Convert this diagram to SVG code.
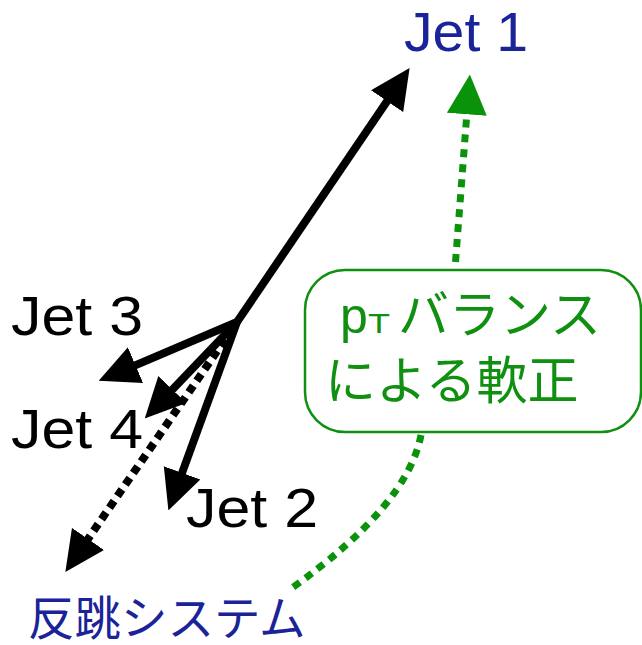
<svg xmlns="http://www.w3.org/2000/svg" width="642" height="645" viewBox="0 0 642 645">
<style>
.lat{font-family:"Liberation Sans","Noto Sans CJK JP",sans-serif;font-size:56px}
.jp{font-family:"Noto Sans CJK JP",sans-serif}
.blue{fill:#1a2397}
.green{fill:#109010}
.blk{fill:#000}
.arrow{stroke:#000;stroke-width:8;fill:none}
.dot{stroke:#000;stroke-width:8;fill:none;stroke-dasharray:8 6}
.gdot{stroke:#0a930a;stroke-width:7;fill:none;stroke-dasharray:8 7}
</style>
<defs>
<marker id="ah" markerUnits="userSpaceOnUse" markerWidth="40" markerHeight="40" viewBox="0 0 35 34" refX="2" refY="17" orient="auto"><path d="M0,0 L35,17 L0,34 z" fill="#000"/></marker>
<marker id="gah" markerUnits="userSpaceOnUse" markerWidth="40" markerHeight="40" viewBox="0 0 34 34" refX="2" refY="17" orient="auto"><path d="M0,0 L34,17 L0,34 z" fill="#0a930a"/></marker>
</defs>
<g id="connectors">
<line class="dot" x1="233" y1="328" x2="86.7" y2="540.8" marker-end="url(#ah)"/>
<line class="arrow" x1="237" y1="322" x2="388.4" y2="99.3" marker-end="url(#ah)"/>
<line class="arrow" x1="237" y1="322" x2="133.4" y2="366.1" marker-end="url(#ah)"/>
<line class="arrow" x1="237" y1="322" x2="170.8" y2="391.2" marker-end="url(#ah)"/>
<line class="arrow" x1="237" y1="322" x2="181.3" y2="475" marker-end="url(#ah)"/>
<line class="gdot" x1="455.5" y1="262" x2="467" y2="112" marker-end="url(#gah)"/>
<path class="gdot" d="M421,435 Q408,505 292,588"/>
</g>
<g id="jet1"><text class="lat blue" x="404" y="51" textLength="124" lengthAdjust="spacingAndGlyphs">Jet 1</text></g>
<g id="jet3"><text class="lat blk" x="11" y="335" textLength="132" lengthAdjust="spacingAndGlyphs">Jet 3</text></g>
<g id="jet4"><text class="lat blk" x="11" y="448" textLength="132" lengthAdjust="spacingAndGlyphs">Jet 4</text></g>
<g id="jet2"><text class="lat blk" x="186" y="527" textLength="132" lengthAdjust="spacingAndGlyphs">Jet 2</text></g>
<g id="recoil"><text class="jp blue" x="28" y="635" font-size="46.5">反跳システム</text></g>
<g id="ptbalance">
<rect x="305" y="270" width="336" height="162" rx="40" ry="40" fill="#fff" stroke="#109010" stroke-width="2.5"/>
<text class="green" x="340" y="333" font-family="Liberation Sans, sans-serif" font-size="50">p</text>
<text class="green" x="368" y="333" font-family="Liberation Sans, sans-serif" font-size="27" textLength="22" lengthAdjust="spacingAndGlyphs">T</text>
<text class="jp green" x="398" y="333" font-size="51">バランス</text>
<text class="jp green" x="325" y="399" font-size="51">による軟正</text>
</g>
</svg>
